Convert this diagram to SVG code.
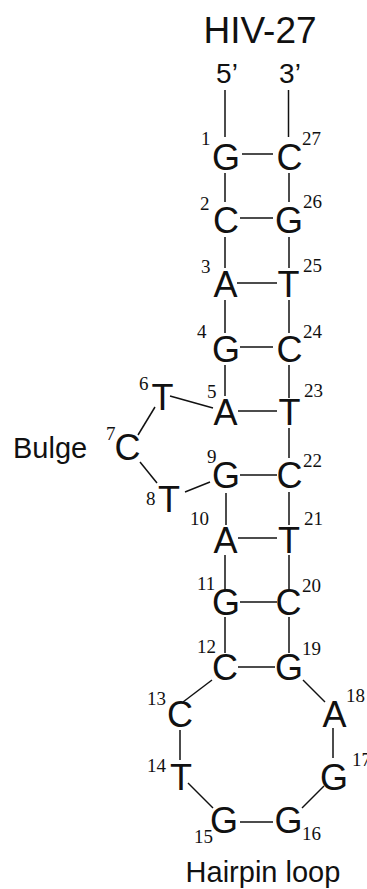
<svg xmlns="http://www.w3.org/2000/svg" width="367" height="889" viewBox="0 0 367 889">
<style>
.b{font-family:"Liberation Sans",Arial,sans-serif;font-size:36px;fill:#111;text-anchor:middle}
.n{font-family:"Liberation Serif","Times New Roman",serif;font-size:19px;fill:#111}
.t{font-family:"Liberation Sans",Arial,sans-serif;fill:#111}
.c line{stroke:#111;stroke-width:1.5}
</style>
<rect width="367" height="889" fill="#fff"/>
<text class="t" x="260" y="43" font-size="37" text-anchor="middle">HIV-27</text>
<text class="t" x="227" y="83" font-size="28" text-anchor="middle">5’</text>
<text class="t" x="290" y="83" font-size="28" text-anchor="middle">3’</text>
<text class="t" x="13" y="458" font-size="29">Bulge</text>
<text class="t" x="263" y="882" font-size="29" text-anchor="middle">Hairpin loop</text>
<g class="c" id="connectors">
<line x1="225" y1="90" x2="225" y2="137"/>
<line x1="288.5" y1="90" x2="288.5" y2="137"/>
<line x1="225" y1="173" x2="225" y2="202"/>
<line x1="225" y1="237" x2="225" y2="268"/>
<line x1="225" y1="300" x2="225" y2="333"/>
<line x1="225" y1="365" x2="225" y2="396"/>
<line x1="226" y1="493" x2="226" y2="525"/>
<line x1="225" y1="555" x2="225" y2="590"/>
<line x1="225" y1="617" x2="225" y2="653"/>
<line x1="289" y1="173" x2="289" y2="202"/>
<line x1="289" y1="237" x2="289" y2="268"/>
<line x1="289" y1="300" x2="289" y2="333"/>
<line x1="289" y1="365" x2="289" y2="398"/>
<line x1="289" y1="428" x2="289" y2="458"/>
<line x1="289" y1="492" x2="289" y2="525"/>
<line x1="289" y1="555" x2="289" y2="590"/>
<line x1="289" y1="617" x2="289" y2="653"/>
<line x1="242" y1="154" x2="273" y2="154"/>
<line x1="240" y1="218" x2="273" y2="218"/>
<line x1="237" y1="283" x2="277" y2="283"/>
<line x1="240" y1="347" x2="273" y2="347"/>
<line x1="238" y1="411" x2="277" y2="411"/>
<line x1="240" y1="475" x2="277" y2="475"/>
<line x1="238" y1="538" x2="277" y2="538"/>
<line x1="240" y1="602" x2="277" y2="602"/>
<line x1="238" y1="667" x2="275" y2="667"/>
<line x1="170" y1="396" x2="213" y2="408"/>
<line x1="155" y1="407" x2="138" y2="435"/>
<line x1="140" y1="462" x2="157" y2="483"/>
<line x1="185" y1="492" x2="210" y2="482"/>
<line x1="212" y1="680" x2="183" y2="702"/>
<line x1="303" y1="680" x2="325" y2="702"/>
<line x1="180" y1="730" x2="180" y2="760"/>
<line x1="333" y1="728" x2="333" y2="758"/>
<line x1="188" y1="783" x2="213" y2="808"/>
<line x1="240" y1="822" x2="273" y2="822"/>
<line x1="302" y1="808" x2="324" y2="786"/>
</g>
<g id="n1"><text class="b" x="226" y="170">G</text><text class="n" x="201" y="145">1</text></g>
<g id="n27"><text class="b" x="289.5" y="170">C</text><text class="n" x="302" y="145">27</text></g>
<g id="n2"><text class="b" x="226" y="233">C</text><text class="n" x="200" y="210">2</text></g>
<g id="n26"><text class="b" x="289" y="233">G</text><text class="n" x="303" y="208">26</text></g>
<g id="n3"><text class="b" x="225.5" y="297">A</text><text class="n" x="201" y="273">3</text></g>
<g id="n25"><text class="b" x="288.5" y="297">T</text><text class="n" x="303" y="272">25</text></g>
<g id="n4"><text class="b" x="226" y="362">G</text><text class="n" x="197" y="338">4</text></g>
<g id="n24"><text class="b" x="289.5" y="362">C</text><text class="n" x="303" y="338">24</text></g>
<g id="n5"><text class="b" x="225.5" y="425">A</text><text class="n" x="207" y="398">5</text></g>
<g id="n23"><text class="b" x="289.5" y="425">T</text><text class="n" x="304" y="397">23</text></g>
<g id="n6"><text class="b" x="162.5" y="410">T</text><text class="n" x="139" y="390">6</text></g>
<g id="n7"><text class="b" x="127.5" y="460">C</text><text class="n" x="106" y="440">7</text></g>
<g id="n8"><text class="b" x="169" y="512">T</text><text class="n" x="146" y="505">8</text></g>
<g id="n9"><text class="b" x="226" y="488">G</text><text class="n" x="207" y="463">9</text></g>
<g id="n22"><text class="b" x="289.5" y="488">C</text><text class="n" x="303" y="467">22</text></g>
<g id="n10"><text class="b" x="225.5" y="553">A</text><text class="n" x="190" y="525">10</text></g>
<g id="n21"><text class="b" x="289" y="553">T</text><text class="n" x="304" y="525">21</text></g>
<g id="n11"><text class="b" x="226" y="615">G</text><text class="n" x="197" y="590">11</text></g>
<g id="n20"><text class="b" x="288.5" y="615">C</text><text class="n" x="302" y="592">20</text></g>
<g id="n12"><text class="b" x="225" y="680">C</text><text class="n" x="197" y="653">12</text></g>
<g id="n19"><text class="b" x="289" y="680">G</text><text class="n" x="302" y="655">19</text></g>
<g id="n13"><text class="b" x="180" y="727">C</text><text class="n" x="147" y="705">13</text></g>
<g id="n18"><text class="b" x="334.5" y="727">A</text><text class="n" x="346" y="702">18</text></g>
<g id="n14"><text class="b" x="181" y="790">T</text><text class="n" x="147" y="772">14</text></g>
<g id="n17"><text class="b" x="334" y="790">G</text><text class="n" x="352" y="766">17</text></g>
<g id="n15"><text class="b" x="224" y="833">G</text><text class="n" x="194" y="843">15</text></g>
<g id="n16"><text class="b" x="288.5" y="833">G</text><text class="n" x="302" y="840">16</text></g>
</svg>
